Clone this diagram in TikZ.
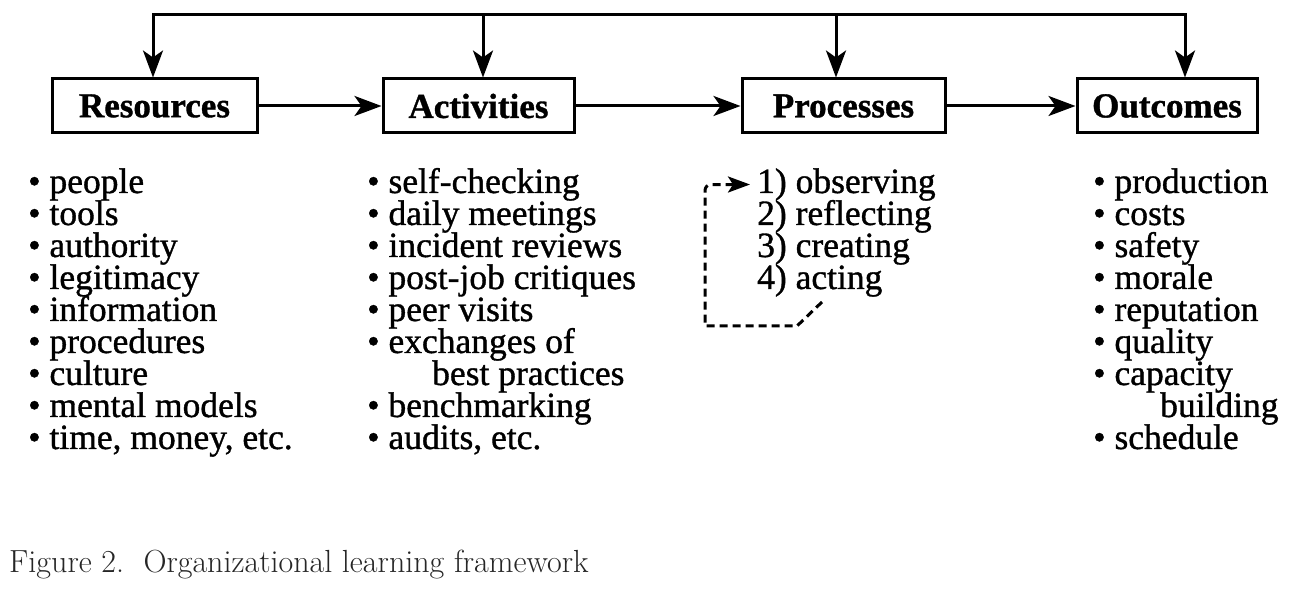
\documentclass[tikz,border=0pt]{standalone}
\usepackage{fontspec}
\newfontfamily\bask[FakeBold=1]{Liberation Serif}
\usetikzlibrary{arrows.meta}
\begin{document}
\begin{tikzpicture}[x=1pt,y=-1pt,
  box/.style={draw, line width=3pt, minimum height=54pt, inner sep=0pt,
    font=\bask\bfseries\fontsize{35}{35}\selectfont},
  arr/.style={line width=3pt, -{Stealth[length=27pt,width=20pt,inset=7pt]}},
  loop/.style={line width=3pt, dash pattern=on 8pt off 5pt,
    -{Stealth[length=22pt,width=16pt,inset=5pt]}},
  item/.style={anchor=base west, inner sep=0pt, font=\bask\fontsize{35.5}{32}\selectfont},
  capt/.style={anchor=base west, inner sep=0pt, text=black!85,
    font=\fontsize{32}{32}\selectfont},
]
\useasboundingbox (0,0) rectangle (1291,593);

% boxes
\node[box, minimum width=205pt] (res) at (154.5,106) {Resources};
\node[box, minimum width=191pt] (act) at (478.5,106) {Activities};
\node[box, minimum width=203pt] (pro) at (843.5,106) {Processes};
\node[box, minimum width=180pt] (out) at (1167,106) {Outcomes};

% horizontal arrows
\draw[arr] (res) -- (act);
\draw[arr] (act) -- (pro);
\draw[arr] (pro) -- (out);

% top feedback line
\coordinate (t1) at (153,15);
\coordinate (t2) at (483,15);
\coordinate (t3) at (836,15);
\coordinate (t4) at (1185,15);
\draw[arr] (t2) -- (t1) -- (t1 |- res.north);
\draw[arr] (t2) -- (t4) -- (t4 |- out.north);
\draw[arr] (t2) -- (t2 |- act.north);
\draw[arr] (t3) -- (t3 |- pro.north);

% resources list
\foreach \s [count=\i from 0] in {people, tools, authority, legitimacy, information,
  procedures, culture, {mental models}, {time, money, etc.}}
  \node[item] (r\i) at (28,{193+32*\i}) {\textbullet\ \s};

% activities list
\foreach \s/\i in {self-checking/0, daily meetings/1, incident reviews/2,
  post-job critiques/3, peer visits/4, exchanges of/5, benchmarking/7, {audits, etc.}/8}
  \node[item] (a\i) at (367,{193+32*\i}) {\textbullet\ \s};
\node[item] (a6) at (432,{193+32*6}) {best practices};

% processes list
\foreach \s [count=\i from 0] in {1) observing, 2) reflecting, 3) creating, 4) acting}
  \node[item] (p\i) at (757,{193+32*\i}) {\s};

% outcomes list
\foreach \s/\i in {production/0, costs/1, safety/2, morale/3, reputation/4,
  quality/5, capacity/6, schedule/8}
  \node[item] (o\i) at (1093,{193+32*\i}) {\textbullet\ \s};
\node[item] (o7) at (1160,{193+32*7}) {building};

% dashed loop
\coordinate (d0) at (822,302);
\coordinate (d1) at (797,326);
\coordinate (d2) at (705,326);
\draw[loop] (d0) -- (d1) -- (d2) [rounded corners=6pt] |- ([xshift=-7pt]p0.west);

% caption
\node[capt] (cap) at (9,572) {Figure 2.\ \ Organizational learning framework};
\end{tikzpicture}
\end{document}
